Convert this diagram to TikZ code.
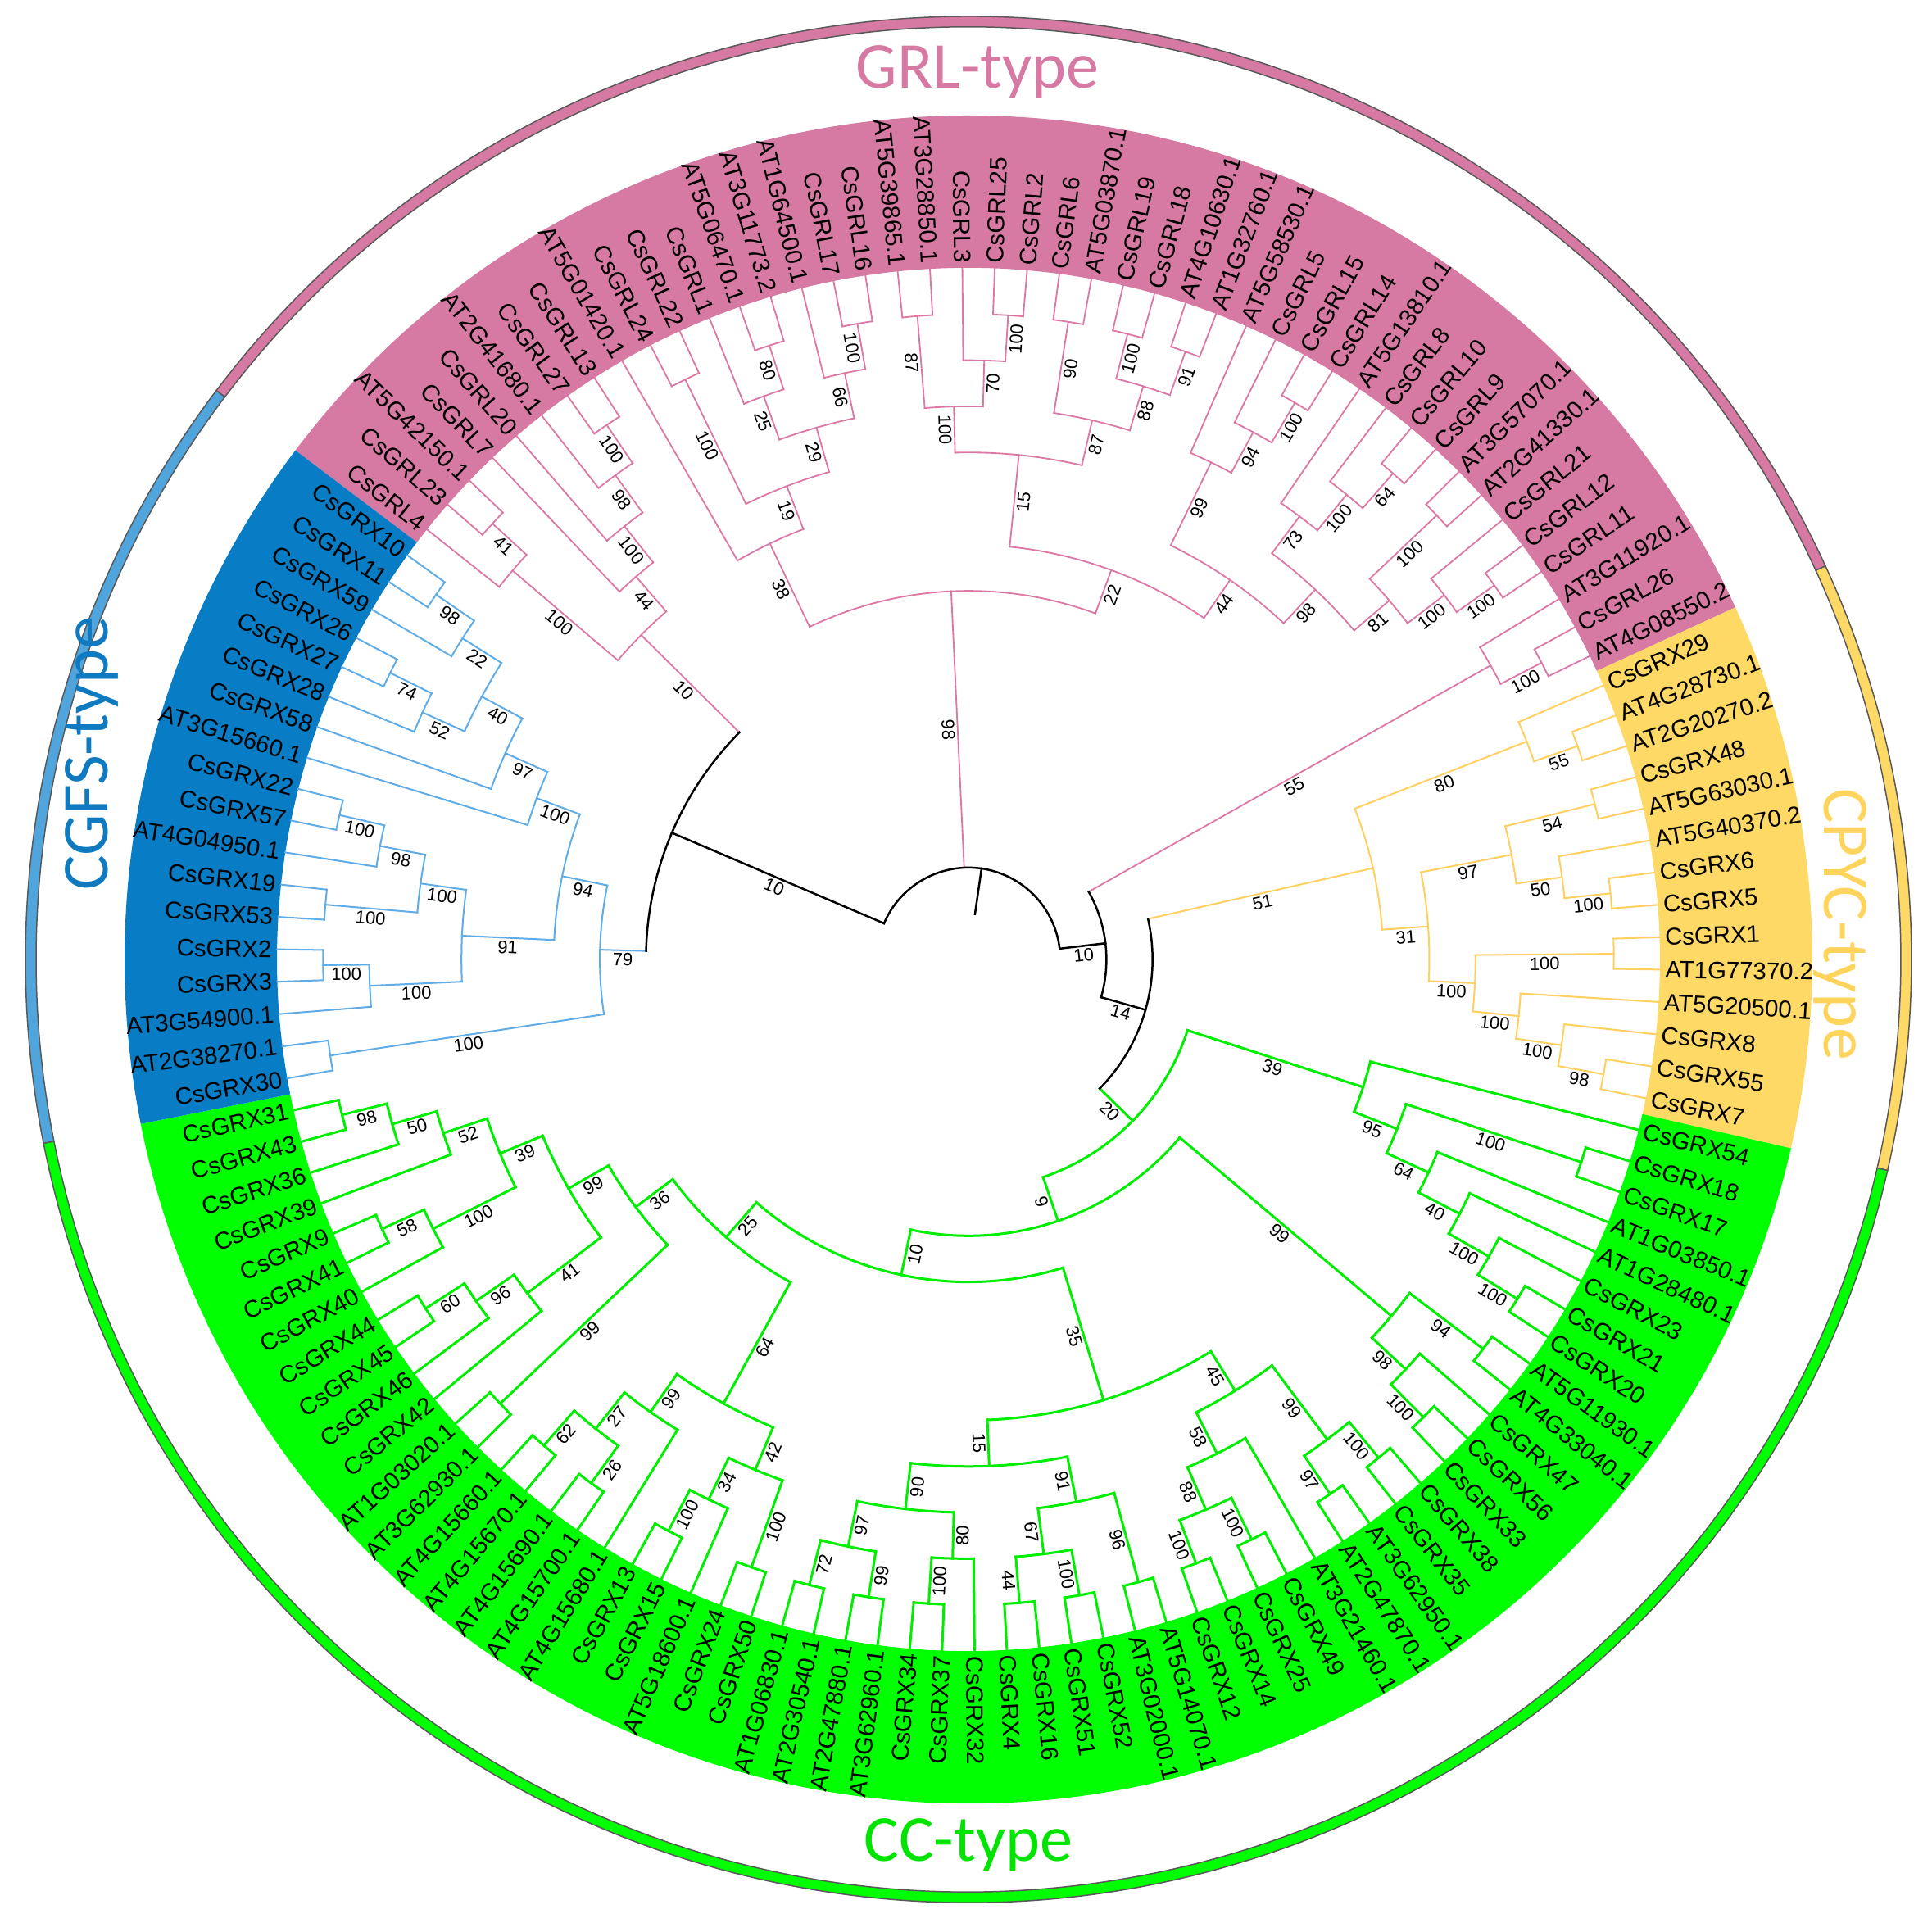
\documentclass[tikz,border=0pt]{standalone}
\usepackage{fontspec}
\setmainfont{Liberation Sans}
\newfontfamily\secfont{Carlito}
\definecolor{grlband}{RGB}{214,122,163}
\definecolor{grlline}{RGB}{220,120,165}
\definecolor{cgfsband}{RGB}{8,124,196}
\definecolor{cgfsline}{RGB}{95,172,230}
\definecolor{cgfsring}{RGB}{80,165,220}
\definecolor{cgfstext}{RGB}{16,122,192}
\definecolor{cpycband}{RGB}{255,217,102}
\definecolor{cpycline}{RGB}{255,208,95}
\definecolor{cpyctext}{RGB}{255,212,92}
\definecolor{ccband}{RGB}{0,255,0}
\definecolor{ccline}{RGB}{0,238,0}
\definecolor{cctext}{RGB}{0,228,0}
\tikzset{
  grlc/.style={draw=grlline, line width=0.55pt},
  cgfsc/.style={draw=cgfsline, line width=0.6pt},
  cpycc/.style={draw=cpycline, line width=0.6pt},
  ccc/.style={draw=ccline, line width=0.9pt},
  blk/.style={draw=black, line width=0.75pt},
  leaf/.style={font=\fontsize{8.8}{10}\selectfont, inner sep=0pt},
  bsl/.style={font=\fontsize{6.6}{7}\selectfont, inner sep=0.9pt},
  secl/.style={font=\secfont\fontsize{24}{26}\selectfont, inner sep=0pt},
}
\newcommand\Rl{253.2}
\newcommand\Dh{16.89}
\newcommand\setprop[3]{\expandafter\xdef\csname #1:#2\endcsname{#3}}
\newcommand\getprop[2]{\csname #1:#2\endcsname}
% leaf: index, style, text
\newcommand\lf[3]{%
  \pgfmathsetmacro\la{141.55-2.6866*#1+(#1>115)*360}%
  \setprop{A}{#1}{\la}\setprop{H}{#1}{0}\setprop{C}{#1}{#2}\setprop{B}{#1}{}%
  \pgfmathsetmacro\lc{cos(\la)}%
  \ifdim\lc pt>0pt
    \node[leaf,anchor=west,rotate=\la] at (\la:255pt) {#3};
  \else
    \pgfmathsetmacro\lr{\la+180}%
    \node[leaf,anchor=east,rotate=\lr] at (\la:255pt) {#3};
  \fi}
\newcommand\drawstem[4]{\edef\tmp{\noexpand\draw[#1] (#2:#3pt) -- (#2:#4pt);}\tmp}
\newcommand\bslabel[3]{%
  \edef\bv{\getprop{B}{#1}}%
  \ifx\bv\empty\else
    \edef\ba{\getprop{A}{#1}}%
    \pgfmathsetmacro\bm{(#2+#3)/2}%
    \pgfmathsetmacro\bc{cos(\ba)}%
    \ifdim\bc pt>0pt \edef\brot{\ba}\else\pgfmathsetmacro\brot{\ba+180}\fi
    \node[bsl,rotate=\brot,anchor=north] at (\ba:\bm pt) {\bv};
  \fi}
% node: name, bootstrap, child1, child2
\newcommand\nd[4]{%
  \edef\ca{\getprop{A}{#3}}\edef\cb{\getprop{A}{#4}}%
  \edef\ha{\getprop{H}{#3}}\edef\hb{\getprop{H}{#4}}%
  \edef\cola{\getprop{C}{#3}}\edef\colb{\getprop{C}{#4}}%
  \pgfmathtruncatemacro\hh{max(\ha,\hb)+1}%
  \pgfmathsetmacro\rr{\Rl-\Dh*\hh}%
  \pgfmathsetmacro\ra{\Rl-\Dh*\ha}%
  \pgfmathsetmacro\rb{\Rl-\Dh*\hb}%
  \pgfmathsetmacro\am{(\ca+\cb)/2}%
  \drawstem{\cola}{\ca}{\rr}{\ra}%
  \drawstem{\colb}{\cb}{\rr}{\rb}%
  \edef\tmp{\noexpand\draw[\curcol] (\ca:\rr pt) arc[start angle=\ca, end angle=\cb, radius=\rr pt];}\tmp
  \bslabel{#3}{\rr}{\ra}\bslabel{#4}{\rr}{\rb}%
  \setprop{A}{#1}{\am}\setprop{H}{#1}{\hh}\setprop{C}{#1}{\curcol}\setprop{B}{#1}{#2}%
}
% trifurcating root: name, c1, c2, c3
\newcommand\ndt[4]{%
  \edef\ca{\getprop{A}{#2}}\edef\cb{\getprop{A}{#3}}\edef\cz{\getprop{A}{#4}}%
  \edef\ha{\getprop{H}{#2}}\edef\hb{\getprop{H}{#3}}\edef\hz{\getprop{H}{#4}}%
  \edef\cola{\getprop{C}{#2}}\edef\colb{\getprop{C}{#3}}\edef\colz{\getprop{C}{#4}}%
  \pgfmathtruncatemacro\hh{max(\ha,\hb,\hz)+1}%
  \pgfmathsetmacro\rr{\Rl-\Dh*\hh}%
  \pgfmathsetmacro\rs{\Rl-\Dh*(\hh+1)}%
  \pgfmathsetmacro\ra{\Rl-\Dh*\ha}%
  \pgfmathsetmacro\rb{\Rl-\Dh*\hb}%
  \pgfmathsetmacro\rz{\Rl-\Dh*\hz}%
  \pgfmathsetmacro\am{(\ca+\cz)/2}%
  \drawstem{\cola}{\ca}{\rr}{\ra}%
  \drawstem{\colb}{\cb}{\rr}{\rb}%
  \drawstem{\colz}{\cz}{\rr}{\rz}%
  \drawstem{\curcol}{\am}{\rs}{\rr}%
  \edef\tmp{\noexpand\draw[\curcol] (\ca:\rr pt) arc[start angle=\ca, end angle=\cz, radius=\rr pt];}\tmp
  \bslabel{#2}{\rr}{\ra}\bslabel{#3}{\rr}{\rb}\bslabel{#4}{\rr}{\rz}%
}
\newcommand\sector[5]{\fill[#1] (#2:#4pt) arc[start angle=#2, end angle=#3, radius=#4pt] -- (#3:#5pt) arc[start angle=#3, end angle=#2, radius=#5pt] -- cycle;}
\newcommand\ringseg[3]{\filldraw[fill=#1, draw=black!65, line width=0.45pt] (#2:341.4pt) arc[start angle=#2, end angle=#3, radius=341.4pt] -- (#3:345.3pt) arc[start angle=#3, end angle=#2, radius=345.3pt] -- cycle;}

\begin{document}
\begin{tikzpicture}[line cap=rect]
\fill[white] (-354.6pt,-356.1pt) rectangle (352.8pt,351.3pt);
\useasboundingbox (-354.6pt,-356.1pt) rectangle (352.8pt,351.3pt);
% label bands
\sector{grlband}{24.66}{142.9}{253.2}{309}
\sector{cpycband}{-12.93}{24.66}{253.2}{309}
\sector{ccband}{-168.76}{-12.93}{253.2}{309}
\sector{cgfsband}{142.9}{191.24}{253.2}{309}
% outer ring
\ringseg{grlband}{24.66}{142.9}
\ringseg{cpycband}{-12.93}{24.66}
\ringseg{ccband}{-168.76}{-12.93}
\ringseg{cgfsring}{142.9}{191.24}
% group titles
\node[secl, text=grlband, anchor=base] (tgrl) at (3.3pt,318.9pt) {GRL-type};
\node[secl, text=cctext, anchor=base] (tcc) at (0pt,-330pt) {CC-type};
\node[secl, text=cgfstext, anchor=base, rotate=90] (tcgfs) at (-315pt,75.3pt) {CGFS-type};
\node[secl, text=cpyctext, anchor=base, rotate=-90] (tcpyc) at (313.2pt,12.9pt) {CPYC-type};
% ---------- leaves ----------
\lf{0}{grlc}{CsGRL4}
\lf{1}{grlc}{CsGRL23}
\lf{2}{grlc}{AT5G42150.1}
\lf{3}{grlc}{CsGRL7}
\lf{4}{grlc}{CsGRL20}
\lf{5}{grlc}{AT2G41680.1}
\lf{6}{grlc}{CsGRL27}
\lf{7}{grlc}{CsGRL13}
\lf{8}{grlc}{AT5G01420.1}
\lf{9}{grlc}{CsGRL24}
\lf{10}{grlc}{CsGRL22}
\lf{11}{grlc}{CsGRL1}
\lf{12}{grlc}{AT5G06470.1}
\lf{13}{grlc}{AT3G11773.2}
\lf{14}{grlc}{AT1G64500.1}
\lf{15}{grlc}{CsGRL17}
\lf{16}{grlc}{CsGRL16}
\lf{17}{grlc}{AT5G39865.1}
\lf{18}{grlc}{AT3G28850.1}
\lf{19}{grlc}{CsGRL3}
\lf{20}{grlc}{CsGRL25}
\lf{21}{grlc}{CsGRL2}
\lf{22}{grlc}{CsGRL6}
\lf{23}{grlc}{AT5G03870.1}
\lf{24}{grlc}{CsGRL19}
\lf{25}{grlc}{CsGRL18}
\lf{26}{grlc}{AT4G10630.1}
\lf{27}{grlc}{AT1G32760.1}
\lf{28}{grlc}{AT5G58530.1}
\lf{29}{grlc}{CsGRL5}
\lf{30}{grlc}{CsGRL15}
\lf{31}{grlc}{CsGRL14}
\lf{32}{grlc}{AT5G13810.1}
\lf{33}{grlc}{CsGRL8}
\lf{34}{grlc}{CsGRL10}
\lf{35}{grlc}{CsGRL9}
\lf{36}{grlc}{AT3G57070.1}
\lf{37}{grlc}{AT2G41330.1}
\lf{38}{grlc}{CsGRL21}
\lf{39}{grlc}{CsGRL12}
\lf{40}{grlc}{CsGRL11}
\lf{41}{grlc}{AT3G11920.1}
\lf{42}{grlc}{CsGRL26}
\lf{43}{grlc}{AT4G08550.2}
\lf{44}{cpycc}{CsGRX29}
\lf{45}{cpycc}{AT4G28730.1}
\lf{46}{cpycc}{AT2G20270.2}
\lf{47}{cpycc}{CsGRX48}
\lf{48}{cpycc}{AT5G63030.1}
\lf{49}{cpycc}{AT5G40370.2}
\lf{50}{cpycc}{CsGRX6}
\lf{51}{cpycc}{CsGRX5}
\lf{52}{cpycc}{CsGRX1}
\lf{53}{cpycc}{AT1G77370.2}
\lf{54}{cpycc}{AT5G20500.1}
\lf{55}{cpycc}{CsGRX8}
\lf{56}{cpycc}{CsGRX55}
\lf{57}{cpycc}{CsGRX7}
\lf{58}{ccc}{CsGRX54}
\lf{59}{ccc}{CsGRX18}
\lf{60}{ccc}{CsGRX17}
\lf{61}{ccc}{AT1G03850.1}
\lf{62}{ccc}{AT1G28480.1}
\lf{63}{ccc}{CsGRX23}
\lf{64}{ccc}{CsGRX21}
\lf{65}{ccc}{CsGRX20}
\lf{66}{ccc}{AT5G11930.1}
\lf{67}{ccc}{AT4G33040.1}
\lf{68}{ccc}{CsGRX47}
\lf{69}{ccc}{CsGRX56}
\lf{70}{ccc}{CsGRX33}
\lf{71}{ccc}{CsGRX38}
\lf{72}{ccc}{CsGRX35}
\lf{73}{ccc}{AT3G62950.1}
\lf{74}{ccc}{AT2G47870.1}
\lf{75}{ccc}{AT3G21460.1}
\lf{76}{ccc}{CsGRX49}
\lf{77}{ccc}{CsGRX25}
\lf{78}{ccc}{CsGRX14}
\lf{79}{ccc}{CsGRX12}
\lf{80}{ccc}{AT5G14070.1}
\lf{81}{ccc}{AT3G02000.1}
\lf{82}{ccc}{CsGRX52}
\lf{83}{ccc}{CsGRX51}
\lf{84}{ccc}{CsGRX16}
\lf{85}{ccc}{CsGRX4}
\lf{86}{ccc}{CsGRX32}
\lf{87}{ccc}{CsGRX37}
\lf{88}{ccc}{CsGRX34}
\lf{89}{ccc}{AT3G62960.1}
\lf{90}{ccc}{AT2G47880.1}
\lf{91}{ccc}{AT2G30540.1}
\lf{92}{ccc}{AT1G06830.1}
\lf{93}{ccc}{CsGRX50}
\lf{94}{ccc}{CsGRX24}
\lf{95}{ccc}{AT5G18600.1}
\lf{96}{ccc}{CsGRX15}
\lf{97}{ccc}{CsGRX13}
\lf{98}{ccc}{AT4G15680.1}
\lf{99}{ccc}{AT4G15700.1}
\lf{100}{ccc}{AT4G15690.1}
\lf{101}{ccc}{AT4G15670.1}
\lf{102}{ccc}{AT4G15660.1}
\lf{103}{ccc}{AT3G62930.1}
\lf{104}{ccc}{AT1G03020.1}
\lf{105}{ccc}{CsGRX42}
\lf{106}{ccc}{CsGRX46}
\lf{107}{ccc}{CsGRX45}
\lf{108}{ccc}{CsGRX44}
\lf{109}{ccc}{CsGRX40}
\lf{110}{ccc}{CsGRX41}
\lf{111}{ccc}{CsGRX9}
\lf{112}{ccc}{CsGRX39}
\lf{113}{ccc}{CsGRX36}
\lf{114}{ccc}{CsGRX43}
\lf{115}{ccc}{CsGRX31}
\lf{116}{cgfsc}{CsGRX30}
\lf{117}{cgfsc}{AT2G38270.1}
\lf{118}{cgfsc}{AT3G54900.1}
\lf{119}{cgfsc}{CsGRX3}
\lf{120}{cgfsc}{CsGRX2}
\lf{121}{cgfsc}{CsGRX53}
\lf{122}{cgfsc}{CsGRX19}
\lf{123}{cgfsc}{AT4G04950.1}
\lf{124}{cgfsc}{CsGRX57}
\lf{125}{cgfsc}{CsGRX22}
\lf{126}{cgfsc}{AT3G15660.1}
\lf{127}{cgfsc}{CsGRX58}
\lf{128}{cgfsc}{CsGRX28}
\lf{129}{cgfsc}{CsGRX27}
\lf{130}{cgfsc}{CsGRX26}
\lf{131}{cgfsc}{CsGRX59}
\lf{132}{cgfsc}{CsGRX11}
\lf{133}{cgfsc}{CsGRX10}
% ---------- GRL ----------
\def\curcol{grlc}
\nd{c12}{41}{1}{2}
\nd{n0}{100}{0}{c12}
\nd{c67}{100}{6}{7}
\nd{n98a}{98}{5}{c67}
\nd{n100a}{100}{4}{n98a}
\nd{g44}{44}{3}{n100a}
\nd{RL}{10}{n0}{g44}
\nd{c910}{100}{9}{10}
\nd{c1213}{80}{12}{13}
\nd{G25}{25}{11}{c1213}
\nd{c1516}{100}{15}{16}
\nd{G66}{66}{14}{c1516}
\nd{G29}{29}{G25}{G66}
\nd{G19}{19}{c910}{G29}
\nd{G38}{38}{8}{G19}
\nd{c1718}{87}{17}{18}
\nd{c2021}{100}{20}{21}
\nd{n70}{70}{19}{c2021}
\nd{n100c}{100}{c1718}{n70}
\nd{c2223}{90}{22}{23}
\nd{c2425}{100}{24}{25}
\nd{c2627}{91}{26}{27}
\nd{n88}{88}{c2425}{c2627}
\nd{n87b}{87}{c2223}{n88}
\nd{n15}{15}{n100c}{n87b}
\nd{c3031}{100}{30}{31}
\nd{n94}{94}{29}{c3031}
\nd{n99}{99}{28}{n94}
\nd{c3435}{64}{34}{35}
\nd{n100d}{100}{33}{c3435}
\nd{n73}{73}{32}{n100d}
\nd{c3637}{100}{36}{37}
\nd{c3940}{100}{39}{40}
\nd{n100f}{100}{38}{c3940}
\nd{n81}{81}{c3637}{n100f}
\nd{n98b}{98}{n73}{n81}
\nd{G44r}{44}{n99}{n98b}
\nd{G22}{22}{n15}{G44r}
\nd{GRLmain}{98}{G38}{G22}
\nd{c4243}{100}{42}{43}
\nd{G55}{55}{41}{c4243}
% ---------- CGFS ----------
\def\curcol{cgfsc}
\nd{cb1}{98}{133}{132}
\nd{cb2}{22}{cb1}{131}
\nd{cb3}{74}{130}{129}
\nd{cb4}{52}{cb3}{128}
\nd{cb5}{40}{cb2}{cb4}
\nd{cb6}{97}{cb5}{127}
\nd{cb7}{100}{cb6}{126}
\nd{cb8}{100}{125}{124}
\nd{cb9}{98}{cb8}{123}
\nd{cb10}{100}{122}{121}
\nd{cb11}{100}{cb9}{cb10}
\nd{cb12}{100}{120}{119}
\nd{cb13}{100}{cb12}{118}
\nd{cb14}{91}{cb11}{cb13}
\nd{cb15}{94}{cb7}{cb14}
\nd{cb16}{100}{117}{116}
\nd{CGFS}{79}{cb15}{cb16}
% ---------- CPYC ----------
\def\curcol{cpycc}
\nd{y1}{55}{45}{46}
\nd{y2}{80}{44}{y1}
\nd{y3}{54}{47}{48}
\nd{y4}{100}{50}{51}
\nd{y5}{50}{49}{y4}
\nd{y6}{97}{y3}{y5}
\nd{y7}{100}{52}{53}
\nd{y8}{98}{56}{57}
\nd{y9}{100}{55}{y8}
\nd{y10}{100}{54}{y9}
\nd{y11}{100}{y7}{y10}
\nd{y12}{31}{y6}{y11}
\nd{CPYC}{51}{y2}{y12}
% ---------- CC ----------
\def\curcol{ccc}
\nd{k1}{100}{59}{60}
\nd{k2}{100}{64}{65}
\nd{k3}{100}{63}{k2}
\nd{k4}{40}{62}{k3}
\nd{k5}{64}{61}{k4}
\nd{k6}{95}{k1}{k5}
\nd{CCA}{39}{58}{k6}
\nd{k7}{94}{66}{67}
\nd{k8}{100}{69}{70}
\nd{k9}{98}{68}{k8}
\nd{k10}{99}{k7}{k9}
\nd{k11}{72}{91}{92}
\nd{k12}{99}{89}{90}
\nd{k13}{97}{k11}{k12}
\nd{k14}{100}{87}{88}
\nd{k15}{80}{k14}{86}
\nd{k16}{90}{k13}{k15}
\nd{k17}{44}{85}{84}
\nd{k18}{100}{83}{82}
\nd{k19}{67}{k17}{k18}
\nd{k20}{96}{81}{80}
\nd{k21}{91}{k19}{k20}
\nd{k22}{15}{k16}{k21}
\nd{k23}{100}{79}{78}
\nd{k24}{100}{77}{76}
\nd{k25}{88}{k23}{k24}
\nd{k26}{58}{k25}{75}
\nd{k27}{97}{74}{73}
\nd{k28}{100}{72}{71}
\nd{k29}{99}{k27}{k28}
\nd{k30}{45}{k26}{k29}
\nd{CCE}{35}{k22}{k30}
\nd{k31}{98}{115}{114}
\nd{k32}{50}{k31}{113}
\nd{k33}{52}{k32}{112}
\nd{k34}{58}{111}{110}
\nd{k35}{100}{k34}{109}
\nd{k36}{39}{k33}{k35}
\nd{k37}{60}{108}{107}
\nd{k38}{96}{k37}{106}
\nd{k39}{41}{k38}{105}
\nd{k40}{99}{k36}{k39}
\nd{k41}{99}{104}{103}
\nd{k42}{36}{k40}{k41}
\nd{k43}{62}{102}{101}
\nd{k44}{26}{100}{99}
\nd{k45}{27}{k43}{k44}
\nd{k46}{99}{k45}{98}
\nd{k47}{100}{97}{96}
\nd{k48}{34}{k47}{95}
\nd{k49}{100}{94}{93}
\nd{k50}{42}{k48}{k49}
\nd{k51}{64}{k46}{k50}
\nd{CCD}{25}{k42}{k51}
\nd{CCC}{10}{CCD}{CCE}
\nd{CCB}{9}{k10}{CCC}
\nd{CCroot}{20}{CCA}{CCB}
% ---------- backbone ----------
\def\curcol{blk}
\nd{X1}{10}{RL}{CGFS}
\nd{n226}{14}{CPYC}{CCroot}
\nd{n169}{10}{G55}{n226}
\ndt{root}{X1}{GRLmain}{n169}
\end{tikzpicture}
\end{document}
